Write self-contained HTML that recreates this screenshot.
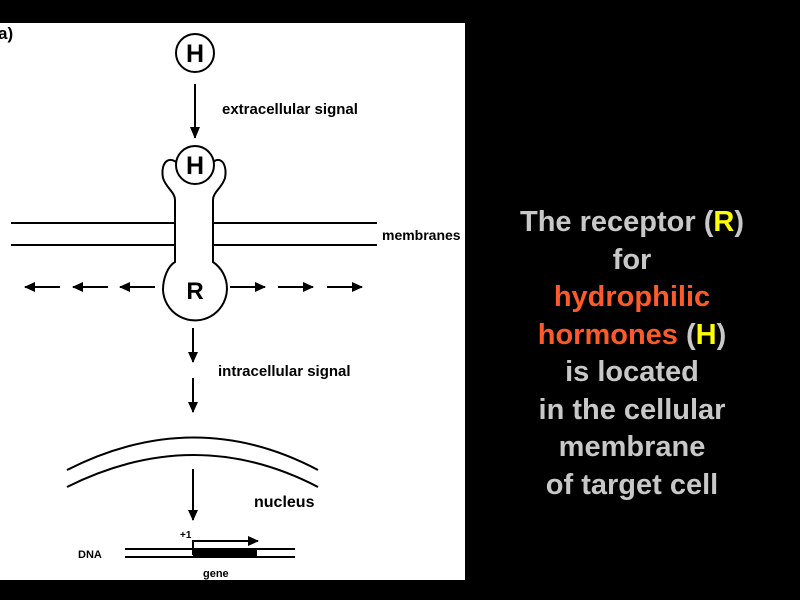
<!DOCTYPE html>
<html><head><meta charset="utf-8"><style>
html,body{margin:0;padding:0;background:#000;width:800px;height:600px;overflow:hidden}
.t{position:absolute;left:482px;width:300px;text-align:center;font-family:"Liberation Sans",sans-serif;font-weight:bold;font-size:29px;color:#c8c8c8;line-height:37.5px;top:204px;white-space:nowrap}
.o{color:#ff5a2a}.y{color:#ffff00}
</style></head><body>
<svg width="800" height="600" style="position:absolute;left:0;top:0" font-family="Liberation Sans, sans-serif" font-weight="bold">
<defs><marker id="a" markerWidth="11" markerHeight="10" refX="10" refY="5" orient="auto" markerUnits="userSpaceOnUse"><path d="M0,0 L11,5 L0,10 z" fill="#000"/></marker>
<marker id="b" markerWidth="10" markerHeight="12" refX="11" refY="5" orient="auto" markerUnits="userSpaceOnUse"><path d="M0,0 L12,5 L0,10 z" fill="#000"/></marker></defs>
<rect x="0" y="23" width="465" height="557" fill="#fff"/>
<text x="-2" y="39" font-size="17">a)</text>
<circle cx="195" cy="53" r="19" fill="none" stroke="#000" stroke-width="2"/>
<text x="195" y="62" font-size="25" text-anchor="middle">H</text>
<line x1="195" y1="84" x2="195" y2="138" stroke="#000" stroke-width="2" marker-end="url(#b)"/>
<text x="222" y="114" font-size="15">extracellular signal</text>
<g stroke="#000" stroke-width="2" fill="none">
<line x1="11" y1="223" x2="175" y2="223"/><line x1="11" y1="245" x2="175" y2="245"/>
<line x1="213" y1="223" x2="377" y2="223"/><line x1="213" y1="245" x2="377" y2="245"/>
<path d="M182,168 C170,152 160,162 163,178 C166,188 175,192 175,200 L175,262 C168,266 163,278 163,290 A32,32 0 1 0 213,262 L213,200 C213,192 222,188 225,178 C228,162 218,152 208,168"/>
</g>
<circle cx="195" cy="165" r="19" fill="#fff" stroke="#000" stroke-width="2"/>
<text x="195" y="174" font-size="25" text-anchor="middle">H</text>
<text x="195" y="299" font-size="24" text-anchor="middle">R</text>
<text x="382" y="240" font-size="14">membranes</text>
<g stroke="#000" stroke-width="2" marker-end="url(#a)">
<line x1="60" y1="287" x2="25" y2="287"/><line x1="108" y1="287" x2="73" y2="287"/><line x1="155" y1="287" x2="120" y2="287"/>
<line x1="230" y1="287" x2="265" y2="287"/><line x1="278" y1="287" x2="313" y2="287"/><line x1="327" y1="287" x2="362" y2="287"/>
<line x1="193" y1="328" x2="193" y2="362"/>
<line x1="193" y1="378" x2="193" y2="412"/>
<line x1="193" y1="469" x2="193" y2="520"/>
</g>
<text x="218" y="376" font-size="15">intracellular signal</text>
<g stroke="#000" stroke-width="2" fill="none">
<path d="M67,470 Q195,405 318,470"/>
<path d="M67,487 Q195,423 318,487"/>
</g>
<text x="254" y="507" font-size="16">nucleus</text>
<g stroke="#000" stroke-width="2">
<line x1="125" y1="549" x2="295" y2="549"/><line x1="125" y1="557" x2="295" y2="557"/>
<polyline points="193,555 193,541 258,541" fill="none" marker-end="url(#a)"/>
</g>
<rect x="193" y="549" width="64" height="8" fill="#000"/>
<text x="78" y="558" font-size="11">DNA</text>
<text x="180" y="538" font-size="10">+1</text>
<text x="203" y="577" font-size="11">gene</text>
</svg>
<div class="t">The receptor (<span class="y">R</span>)<br>for<br><span class="o">hydrophilic</span><br><span class="o">hormones</span> (<span class="y">H</span>)<br>is located<br>in the cellular<br>membrane<br>of target cell</div>
</body></html>
